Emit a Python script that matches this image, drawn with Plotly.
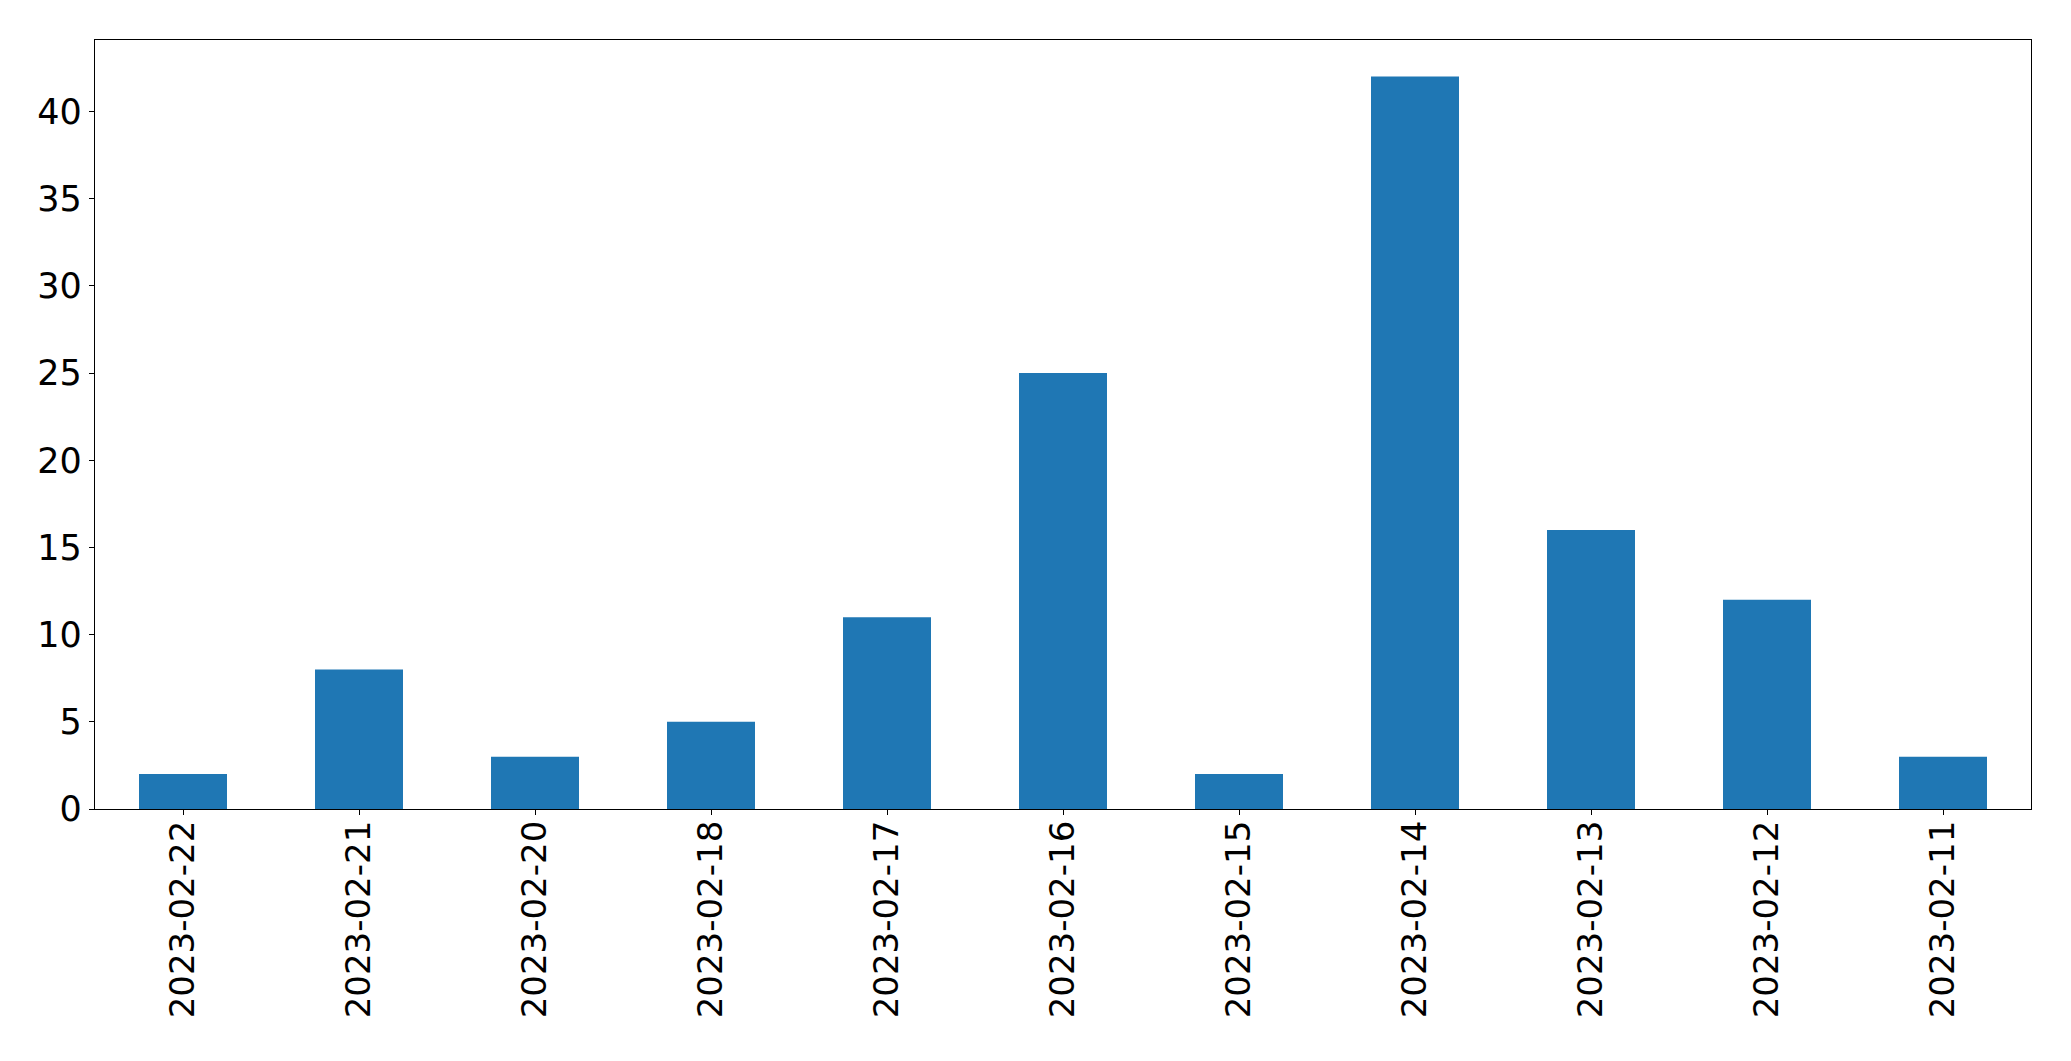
import plotly.graph_objects as go

dates = ["2023-02-22", "2023-02-21", "2023-02-20", "2023-02-18", "2023-02-17",
         "2023-02-16", "2023-02-15", "2023-02-14", "2023-02-13", "2023-02-12", "2023-02-11"]
counts = [2, 8, 3, 5, 11, 25, 2, 42, 16, 12, 3]
y_ticks = [0, 5, 10, 15, 20, 25, 30, 35, 40]

fig = go.Figure(go.Bar(x=dates, y=counts, width=0.5, marker=dict(color="#1f77b4", line=dict(width=0))))

fig.update_layout(
    width=2055, height=1045,
    margin=dict(l=86.5, r=31.5, t=31.5, b=244, pad=0),
    plot_bgcolor="white", paper_bgcolor="white",
    font=dict(family="DejaVu Sans", size=34, color="black"),
    showlegend=False,
)
fig.update_xaxes(type="category", range=[-0.5, 10.5], showline=True, mirror=True,
                 linecolor="black", linewidth=1.3, ticks="outside", ticklen=5,
                 tickwidth=1.3, tickcolor="black", tickangle=-90, showgrid=False,
                 zeroline=False, automargin=False, ticklabelstandoff=-8)
fig.update_yaxes(range=[0, 44.1], tickvals=y_ticks, showline=True, mirror=True,
                 linecolor="black", linewidth=1.3, ticks="outside", ticklen=5,
                 tickwidth=1.3, tickcolor="black", showgrid=False, zeroline=False,
                 automargin=False, tickfont=dict(size=35))

fig.write_html("out.html")
